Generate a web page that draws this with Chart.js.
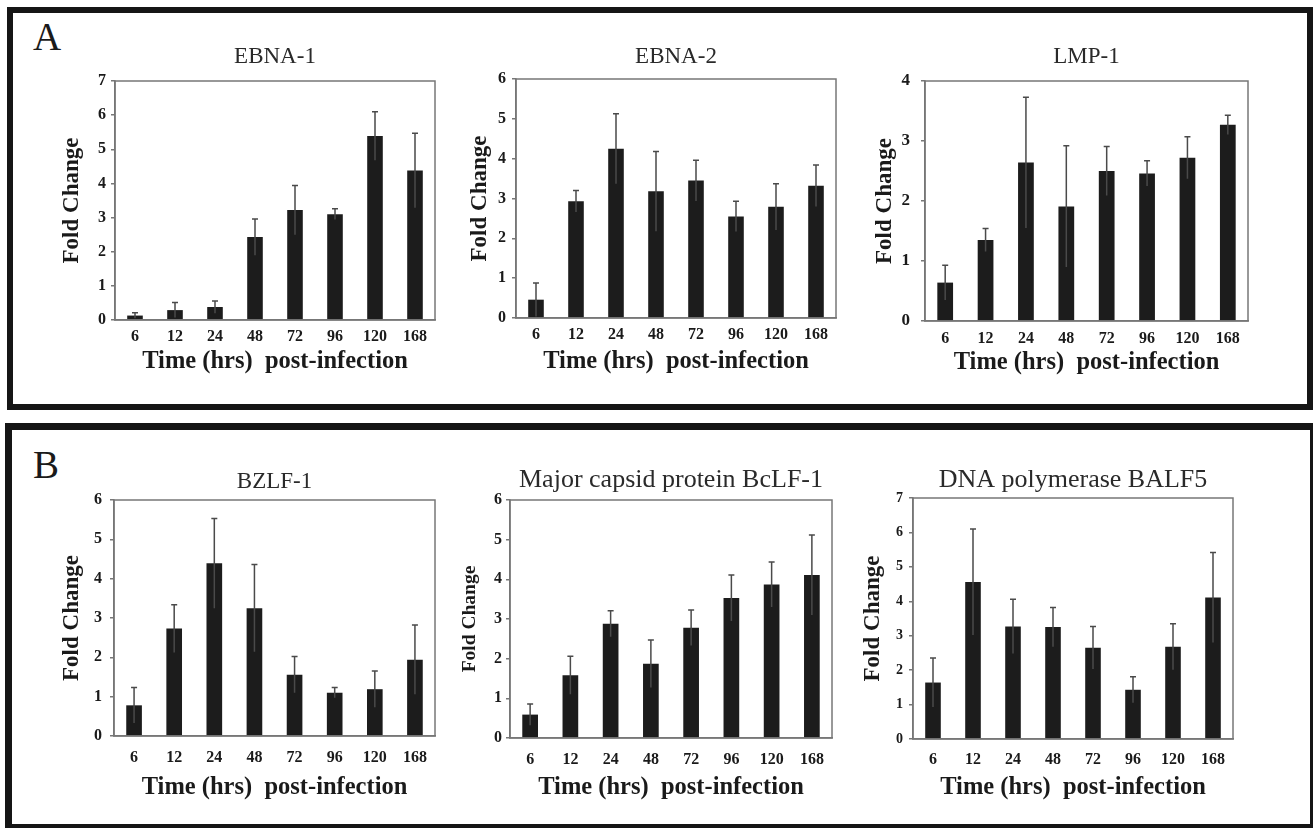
<!DOCTYPE html>
<html>
<head>
<meta charset="utf-8">
<script src="https://cdn.jsdelivr.net/npm/chart.js@4.4.1/dist/chart.umd.min.js"></script>
<style>
  body { margin: 0; background: #fff; width: 1313px; height: 828px; position: relative; overflow: hidden; font-family: 'Liberation Serif', serif; }
  .frame { position: absolute; box-sizing: border-box; border: 6px solid #151515; }
  .letter { position: absolute; font-size: 39px; line-height: 38px; color: #1a1a1a; }
  canvas { position: absolute; }
</style>
</head>
<body>
<div class="frame" style="left:7px;top:7px;width:1306px;height:403px;"></div>
<div class="frame" style="left:5px;top:423px;width:1308px;height:405px;border-width:7px 3px 4px 7px;"></div>
<div class="letter" style="left:33px;top:18px;">A</div>
<div class="letter" style="left:33px;top:446px;">B</div>
<canvas id="c1"></canvas>
<canvas id="c2"></canvas>
<canvas id="c3"></canvas>
<canvas id="c4"></canvas>
<canvas id="c5"></canvas>
<canvas id="c6"></canvas>
<script>
// time points (hrs post-infection)
const hours = ['6', '12', '24', '48', '72', '96', '120', '168'];

// fold change means and upper error (SD)
const ebna1 = [0.13, 0.29, 0.38, 2.43, 3.22, 3.10, 5.39, 4.38];
const ebna1Err = [0.08, 0.22, 0.18, 0.53, 0.72, 0.16, 0.71, 1.09];
const ebna2 = [0.46, 2.93, 4.25, 3.18, 3.45, 2.55, 2.79, 3.32];
const ebna2Err = [0.42, 0.27, 0.88, 1.00, 0.51, 0.38, 0.58, 0.52];
const lmp1 = [0.64, 1.35, 2.64, 1.91, 2.50, 2.46, 2.72, 3.27];
const lmp1Err = [0.29, 0.19, 1.09, 1.01, 0.41, 0.21, 0.35, 0.16];
const bzlf1 = [0.78, 2.73, 4.39, 3.25, 1.56, 1.10, 1.19, 1.94];
const bzlf1Err = [0.45, 0.61, 1.14, 1.11, 0.46, 0.13, 0.46, 0.88];
const bclf1 = [0.59, 1.58, 2.88, 1.87, 2.78, 3.53, 3.87, 4.11];
const bclf1Err = [0.27, 0.48, 0.33, 0.60, 0.45, 0.58, 0.57, 1.01];
const balf5 = [1.64, 4.56, 3.27, 3.25, 2.65, 1.43, 2.68, 4.11];
const balf5Err = [0.71, 1.54, 0.79, 0.57, 0.62, 0.38, 0.67, 1.31];

const yTitle = 'Fold Change';
const xTitle = 'Time (hrs)  post-infection';

Chart.defaults.font.family = "'Liberation Serif', serif";
Chart.defaults.color = '#1a1a1a';

// box around the plot area
const framePlugin = {
    id: 'frame',
    afterDraw(chart) {
        const a = chart.chartArea;
        const ctx = chart.ctx;
        ctx.save();
        ctx.strokeStyle = '#777';
        ctx.lineWidth = 1.5;
        ctx.strokeRect(a.left, a.top, a.right - a.left, a.bottom - a.top);
        ctx.restore();
    }
};

// error bars with a cap on top
const errorPlugin = {
    id: 'errbars',
    afterDatasetsDraw(chart) {
        const ctx = chart.ctx;
        const y = chart.scales.y;
        const ds = chart.data.datasets[0];
        const meta = chart.getDatasetMeta(0);
        ctx.save();
        ctx.strokeStyle = '#4a4a4a';
        ctx.lineWidth = 1.5;
        meta.data.forEach((bar, i) => {
            const v = ds.data[i], e = ds.errors[i];
            const top = y.getPixelForValue(v + e);
            const bot = y.getPixelForValue(Math.max(v - e, 0));
            ctx.beginPath();
            ctx.moveTo(bar.x, bot);
            ctx.lineTo(bar.x, top);
            ctx.moveTo(bar.x - 3, top);
            ctx.lineTo(bar.x + 3, top);
            ctx.stroke();
        });
        ctx.restore();
    }
};

function makeChart(id, title, values, errors, yMax, p) {
    const cx = p.yTitleX - 20, cy = p.titleY - 22;
    const cw = p.R + 12 - cx, ch = p.xTitleY + 20 - cy;
    const canvas = document.getElementById(id);
    canvas.width = cw;
    canvas.height = ch;
    canvas.style.left = cx + 'px';
    canvas.style.top = cy + 'px';

    const titleLH = p.titleSize * 1.2;
    const titlePadTop = p.titleY - cy - titleLH / 2;
    const titlePadBottom = p.T - cy - titlePadTop - titleLH;
    const yTitleLH = p.yTitleSize * 1.2;
    const xTitleSize = 24.5;
    const xTitleLH = xTitleSize * 1.2;
    const xTickSize = 16;

    return new Chart(canvas.getContext('2d'), {
        type: 'bar',
        data: {
            labels: hours,
            datasets: [{
                data: values,
                errors: errors,
                backgroundColor: '#1c1c1c',
                barPercentage: 0.39,
                categoryPercentage: 1.0
            }]
        },
        options: {
            responsive: false,
            animation: false,
            layout: { padding: { left: 0, right: 12, top: 0, bottom: 0 } },
            plugins: {
                legend: { display: false },
                tooltip: { enabled: false },
                title: {
                    display: true,
                    text: title,
                    fullSize: false,
                    color: '#2a2a2a',
                    font: { size: p.titleSize, weight: 'normal' },
                    padding: { top: titlePadTop, bottom: titlePadBottom }
                }
            },
            scales: {
                x: {
                    grid: { display: false, drawTicks: false },
                    border: { display: true, color: '#777', width: 1.5 },
                    ticks: {
                        font: { size: xTickSize, weight: 'bold' },
                        padding: p.xTickY - p.B - xTickSize * 0.6,
                        maxRotation: 0
                    },
                    title: {
                        display: true,
                        text: xTitle,
                        font: { size: xTitleSize, weight: 'bold' },
                        padding: { top: 0, bottom: cy + ch - p.xTitleY - xTitleLH / 2 }
                    },
                    afterFit: s => { s.height = cy + ch - p.B; }
                },
                y: {
                    min: 0,
                    max: yMax,
                    grid: { display: true, drawOnChartArea: false, drawTicks: true, tickLength: 4, color: '#777', lineWidth: 1.5 },
                    border: { display: true, color: '#777', width: 1.5 },
                    ticks: {
                        stepSize: 1,
                        font: { size: p.yTickSize, weight: 'bold' },
                        padding: p.L - p.yLabRight - 4
                    },
                    title: {
                        display: true,
                        text: yTitle,
                        font: { size: p.yTitleSize, weight: 'bold' },
                        padding: { top: p.yTitleX - cx - yTitleLH / 2, bottom: 0 }
                    },
                    afterFit: s => { s.width = p.L - cx; }
                }
            }
        },
        plugins: [framePlugin, errorPlugin]
    });
}

makeChart('c1', 'EBNA-1', ebna1, ebna1Err, 7,
    { L: 115, T: 81, R: 435, B: 320, titleY: 57, yTitleX: 72, yLabRight: 106, xTickY: 337, xTitleY: 362, titleSize: 23, yTitleSize: 23, yTickSize: 16 });
makeChart('c2', 'EBNA-2', ebna2, ebna2Err, 6,
    { L: 516, T: 79, R: 836, B: 318, titleY: 57, yTitleX: 480, yLabRight: 506, xTickY: 335, xTitleY: 362, titleSize: 23, yTitleSize: 23, yTickSize: 16 });
makeChart('c3', 'LMP-1', lmp1, lmp1Err, 4,
    { L: 925, T: 81, R: 1248, B: 321, titleY: 57, yTitleX: 885, yLabRight: 910, xTickY: 339, xTitleY: 363, titleSize: 23, yTitleSize: 23, yTickSize: 17 });
makeChart('c4', 'BZLF-1', bzlf1, bzlf1Err, 6,
    { L: 114, T: 500, R: 435, B: 736, titleY: 482, yTitleX: 72, yLabRight: 102, xTickY: 758, xTitleY: 788, titleSize: 23, yTitleSize: 23, yTickSize: 16 });
makeChart('c5', 'Major capsid protein BcLF-1', bclf1, bclf1Err, 6,
    { L: 510, T: 500, R: 832, B: 738, titleY: 480, yTitleX: 470, yLabRight: 502, xTickY: 760, xTitleY: 788, titleSize: 26, yTitleSize: 19.5, yTickSize: 16 });
makeChart('c6', 'DNA polymerase BALF5', balf5, balf5Err, 7,
    { L: 913, T: 498, R: 1233, B: 739, titleY: 480, yTitleX: 873, yLabRight: 903, xTickY: 760, xTitleY: 788, titleSize: 26, yTitleSize: 23, yTickSize: 14 });
</script>
</body>
</html>
